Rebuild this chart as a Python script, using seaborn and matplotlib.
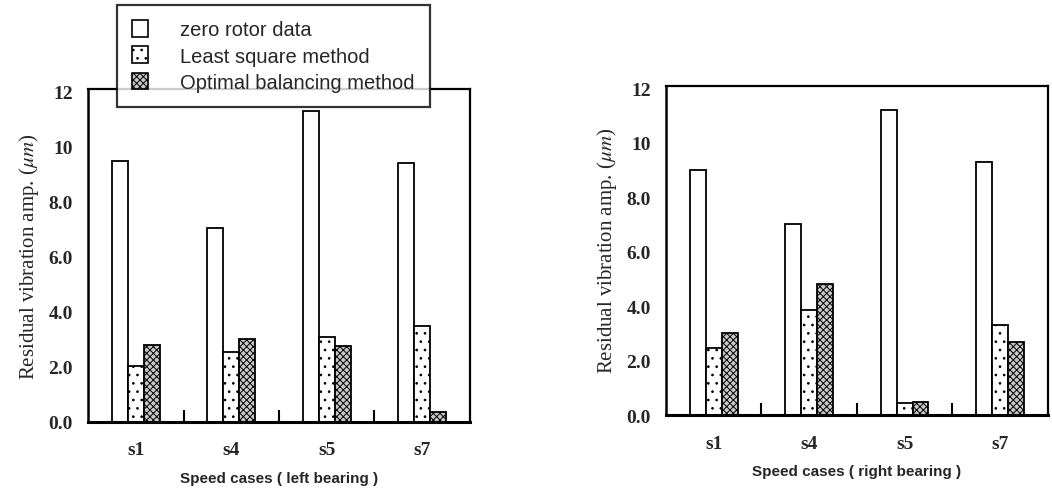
import matplotlib
matplotlib.use('Agg')
import matplotlib.pyplot as plt
import pandas as pd
import seaborn as sns
from matplotlib.patches import Patch

# Data
cases = ['s1', 's4', 's5', 's7']
methods = ['zero rotor data', 'Least square method', 'Optimal balancing method']

left_zero = [9.5, 7.05, 11.3, 9.4]
left_lsq = [2.05, 2.55, 3.1, 3.5]
left_opt = [2.8, 3.0, 2.75, 0.35]

right_zero = [9.0, 7.0, 11.2, 9.3]
right_lsq = [2.45, 3.85, 0.45, 3.3]
right_opt = [3.0, 4.8, 0.5, 2.7]

yticks = [0, 2, 4, 6, 8, 10, 12]
ytick_labels = ['0.0', '2.0', '4.0', '6.0', '8.0', '10', '12']

styles = {
    'zero rotor data': dict(face='white', hatch=None),
    'Least square method': dict(face='white', hatch='..'),
    'Optimal balancing method': dict(face='#c8c8c8', hatch='xxxxx'),
}


def long_frame(zero, lsq, opt):
    rows = []
    for m, vals in zip(methods, [zero, lsq, opt]):
        for c, v in zip(cases, vals):
            rows.append({'case': c, 'method': m, 'value': v})
    return pd.DataFrame(rows)


sns.set_style('white')
plt.rcParams['font.family'] = ['Liberation Serif', 'DejaVu Serif']
plt.rcParams['mathtext.fontset'] = 'stix'
plt.rcParams['hatch.linewidth'] = 0.7

fig = plt.figure(figsize=(10.52, 4.89), dpi=100)
ax1 = fig.add_axes([0.0837, 0.135, 0.363, 0.681])
ax2 = fig.add_axes([0.633, 0.149, 0.363, 0.674])

panels = [
    (ax1, long_frame(left_zero, left_lsq, left_opt), 'Speed cases ( left bearing )'),
    (ax2, long_frame(right_zero, right_lsq, right_opt), 'Speed cases ( right bearing )'),
]

for ax, df, xlabel in panels:
    sns.barplot(df, x='case', y='value', hue='method', hue_order=methods,
                order=cases, width=0.5, ax=ax, legend=False,
                edgecolor='black', linewidth=1.3, palette=['white'] * 3)
    for m, cont in zip(methods, ax.containers):
        for bar in cont:
            bar.set_facecolor(styles[m]['face'])
            if styles[m]['hatch']:
                bar.set_hatch(styles[m]['hatch'])

    ax.set_xlim(-0.5, 3.5)
    ax.set_ylim(0, 12.1)
    ax.set_yticks(yticks)
    ax.set_yticklabels(ytick_labels, fontsize=14, fontweight='bold')
    ax.set_xticks(range(len(cases)))
    ax.set_xticklabels(cases, fontsize=14, fontweight='bold')
    ax.set_xticks([0.5, 1.5, 2.5], minor=True)
    ax.tick_params(axis='y', which='major', length=0, pad=11)
    ax.tick_params(axis='x', which='major', length=0, pad=14)
    ax.tick_params(axis='x', which='minor', direction='in', length=9,
                   width=1.5, color='black', bottom=True)
    ax.set_ylabel(r'Residual vibration amp. ($\mu m$)', fontsize=15, labelpad=5)
    ax.set_xlabel(xlabel, fontsize=11, fontweight='bold',
                  family=['Liberation Sans', 'DejaVu Sans'], labelpad=9)
    for side, lw in [('left', 1.8), ('bottom', 2.2), ('top', 1.6), ('right', 1.6)]:
        ax.spines[side].set_visible(True)
        ax.spines[side].set_color('black')
        ax.spines[side].set_linewidth(lw)

handles = [Patch(facecolor=styles[m]['face'], edgecolor='black',
                 hatch=styles[m]['hatch'], linewidth=1.2) for m in methods]
leg = fig.legend(handles, methods, loc='upper left',
                 bbox_to_anchor=(0.111, 0.988), frameon=True, fancybox=False,
                 prop={'family': ['Liberation Sans', 'DejaVu Sans'], 'size': 14.5},
                 handlelength=0.8, handleheight=0.9, handletextpad=1.6,
                 labelspacing=0.35, borderpad=0.75, borderaxespad=0)
leg.get_frame().set_edgecolor('black')
leg.get_frame().set_linewidth(1.6)

fig.savefig('out.png', dpi=100)
